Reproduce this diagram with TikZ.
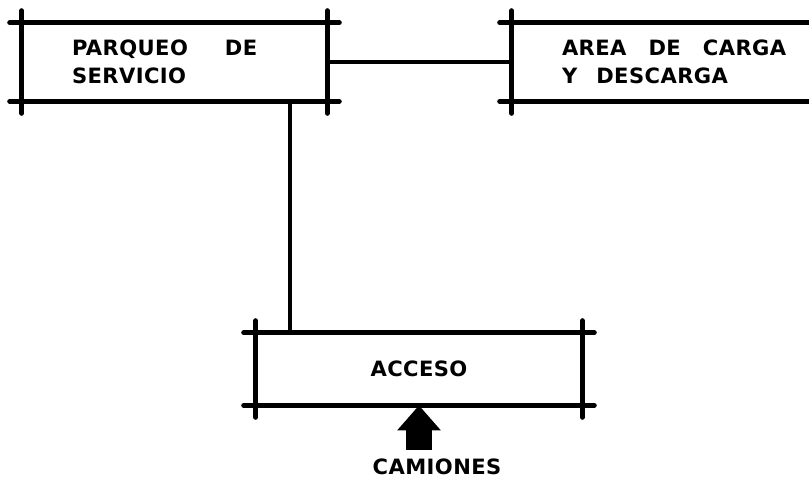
\documentclass[tikz,border=0pt]{standalone}
\usepackage{fontspec}
\setmainfont{DejaVu Sans}
\usetikzlibrary{arrows.meta}

\newcommand{\rotulo}{\bfseries\fontsize{12}{16}\selectfont\addfontfeature{LetterSpace=2}}
% lineas del recuadro que se cruzan en las esquinas
\newcommand{\marco}[1]{%
  \draw[borde] ([xshift=-0.24cm]#1.north west)--([xshift=0.24cm]#1.north east);
  \draw[borde] ([xshift=-0.24cm]#1.south west)--([xshift=0.24cm]#1.south east);
  \draw[borde] ([yshift=0.24cm]#1.north west)--([yshift=-0.24cm]#1.south west);
  \draw[borde] ([yshift=0.24cm]#1.north east)--([yshift=-0.24cm]#1.south east);}

\begin{document}
\begin{tikzpicture}[x=0.02cm,y=-0.02cm,
  borde/.style={line width=2.8pt,line cap=round},
  union/.style={line width=2.2pt},
  caja/.style={inner xsep=1cm,inner ysep=0pt,text width=4.1cm,align=left,
    minimum height=1.56cm,font=\rotulo},
  acceso/.style={inner sep=0pt,minimum width=6.52cm,minimum height=1.44cm,font=\rotulo}]
  \clip (0,0) rectangle (809,481);
  % recuadros
  \node[caja] (parq) at (174.5,62) {PARQUEO\hspace{0.74cm}DE\\SERVICIO};
  \node[caja,text width=5cm] (carga) at (687,62) {AREA\hspace{0.44cm}DE\hspace{0.44cm}CARGA\\Y\hspace{0.38cm}DESCARGA};
  \node[acceso] (acc) at (419,369) {ACCESO};
  \marco{parq} \marco{carga} \marco{acc}
  % relaciones
  \draw[union] (parq.east)--(carga.west);
  \draw[union] ([xshift=-0.74cm]parq.south east) coordinate (v)--(v |- acc.north);
  % entrada de camiones
  \node[font=\rotulo] (cam) at (437,467) {CAMIONES};
  \draw[line width=0.54cm,-{Triangle[length=0.5cm 0,width=0.84cm 0]},shorten <=0.06cm]
    (cam.north -| acc.south)--(acc.south);
\end{tikzpicture}
\end{document}
